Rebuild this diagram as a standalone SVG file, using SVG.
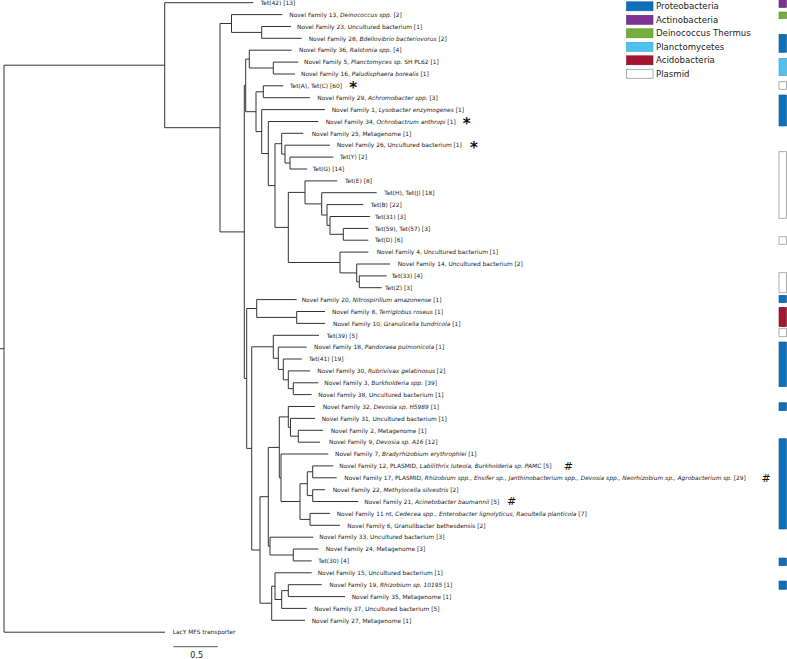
<svg xmlns="http://www.w3.org/2000/svg" width="787" height="659" viewBox="0 0 787 659">
<style>
.l{fill:none;stroke:#333;stroke-width:1}
.t{font-family:"DejaVu Sans",Verdana,sans-serif;font-size:5.9px;fill:#222}
.i{font-style:italic}
.lg{font-family:"DejaVu Sans",Verdana,sans-serif;font-size:8.6px;fill:#222}
.ast{font-family:"DejaVu Sans",sans-serif;font-size:15px;font-weight:bold;fill:#111}
.hash{font-family:"DejaVu Sans",sans-serif;font-size:11px;fill:#111}
.pr{fill:#0c70bf;stroke:#0a5a9a;stroke-width:0.6}
.ac{fill:#7e3394;stroke:#5e2470;stroke-width:0.6}
.de{fill:#76ae3a;stroke:#5a8a2a;stroke-width:0.6}
.pl{fill:#4ec2ef;stroke:#3aa0c8;stroke-width:0.6}
.ab{fill:#a5162f;stroke:#7e1024;stroke-width:0.6}
.pm{fill:#fff;stroke:#999;stroke-width:0.8}
</style>
<rect width="787" height="659" fill="#fff"/>
<g id="connectors" class="l">
<path d="M0 348.7H4M165 65.2H4V632.2H165"/>
<path d="M253.3 2.7H164.7V127.7H220"/>
<path d="M231.5 23.5H220V231.9H244.3"/>
<path d="M282.3 14.6H231.5V32.4H261.7"/>
<path d="M291 26.5H261.7V38.3H301.7"/>
<path d="M245.7 85.4H244.3V378.5H246.7"/>
<path d="M249.3 59.1H245.7V111.7H256"/>
<path d="M291.7 50.2H249.3V68H273.3"/>
<path d="M298.3 62.1H273.3V74H295"/>
<path d="M263.3 91.8H256V131.6H261.7"/>
<path d="M283.3 85.8H263.3V97.7H310"/>
<path d="M325 109.6H261.7V153.5H268.3"/>
<path d="M318.3 121.5H268.3V185.6H275"/>
<path d="M281.7 143.7H275V227.4H288.3"/>
<path d="M303.3 133.3H281.7V154.1H285"/>
<path d="M330 145.2H285V163H290"/>
<path d="M333.3 157.1H290V169H307.3"/>
<path d="M305 192.4H288.3V262.5H340"/>
<path d="M337.3 180.9H305V203.9H321.7"/>
<path d="M376.7 192.7H321.7V215H327"/>
<path d="M363.3 204.6H327V225.4H330"/>
<path d="M370 216.5H330V234.3H343.3"/>
<path d="M368.3 228.4H343.3V240.2H368.3"/>
<path d="M368.3 252.1H340V272.9H356.7"/>
<path d="M390 264H356.7V281.8H359.3"/>
<path d="M386.7 275.9H359.3V287.7H381.7"/>
<path d="M256.7 308.5H246.7V448.4H251.7"/>
<path d="M296.7 299.6H256.7V317.4H296.7"/>
<path d="M325 311.5H296.7V323.4H325"/>
<path d="M273.3 346.8H251.7V550H260"/>
<path d="M319 335.3H273.3V358.3H278.3"/>
<path d="M306.7 347.1H278.3V369.4H283.3"/>
<path d="M301.7 359H283.3V379.8H288.3"/>
<path d="M310 370.9H288.3V388.7H293.3"/>
<path d="M318.3 382.8H293.3V394.6H311.7"/>
<path d="M268.3 496.7H260V603.2H271.7"/>
<path d="M279.3 447.4H268.3V546.1H270"/>
<path d="M288.3 416.9H279.3V477.8H281"/>
<path d="M315 406.5H288.3V427.3H290.5"/>
<path d="M315 418.4H290.5V436.2H298.3"/>
<path d="M323.3 430.3H298.3V442.2H320"/>
<path d="M328.3 454H281V501.5H300"/>
<path d="M307.3 483.7H300V519.4H310"/>
<path d="M312.7 471.8H307.3V495.6H312.7"/>
<path d="M333.3 465.9H312.7V477.8H336.7"/>
<path d="M325 489.7H312.7V501.5H358.3"/>
<path d="M330 513.4H310V525.3H340"/>
<path d="M313.3 537.2H270V555H293.3"/>
<path d="M318.3 549H293.3V560.9H311.7"/>
<path d="M275 586.2H271.7V620.3H305"/>
<path d="M311.7 572.8H275V599.5H281.7"/>
<path d="M288.3 590.6H281.7V608.4H306.7"/>
<path d="M321.7 584.7H288.3V596.6H345"/>
</g>
<g id="leaves" class="t">
<g id="leaf1"><text x="260.7" y="4.9">Tet(42) [13]</text></g>
<g id="leaf2"><text x="289.3" y="16.8">Novel Family 13, <tspan class="i">Deinococcus spp.</tspan> [2]</text></g>
<g id="leaf3"><text x="297" y="28.7">Novel Family 23, Uncultured bacterium [1]</text></g>
<g id="leaf4"><text x="308.7" y="40.5">Novel Family 28, <tspan class="i">Bdellovibrio bacteriovorus</tspan> [2]</text></g>
<g id="leaf5"><text x="299" y="52.4">Novel Family 36, <tspan class="i">Ralstonia spp.</tspan> [4]</text></g>
<g id="leaf6"><text x="304" y="64.3">Novel Family 5, <tspan class="i">Planctomyces sp.</tspan> SH PL62 [1]</text></g>
<g id="leaf7"><text x="301" y="76.2">Novel Family 16, <tspan class="i">Paludisphaera borealis</tspan> [1]</text></g>
<g id="leaf8"><text x="290" y="88">Tet(A), Tet(C) [60]</text><text class="ast" x="353.3" y="93.4" text-anchor="middle">*</text></g>
<g id="leaf9"><text x="317.3" y="99.9">Novel Family 29, <tspan class="i">Achromobacter spp.</tspan> [3]</text></g>
<g id="leaf10"><text x="331.7" y="111.8">Novel Family 1, <tspan class="i">Lysobacter enzymogenes</tspan> [1]</text></g>
<g id="leaf11"><text x="325.7" y="123.7">Novel Family 34, <tspan class="i">Ochrobactrum anthropi</tspan> [1]</text><text class="ast" x="466.7" y="129" text-anchor="middle">*</text></g>
<g id="leaf12"><text x="311.7" y="135.5">Novel Family 25, Metagenome [1]</text></g>
<g id="leaf13"><text x="336.7" y="147.4">Novel Family 26, Uncultured bacterium [1]</text><text class="ast" x="474" y="152.8" text-anchor="middle">*</text></g>
<g id="leaf14"><text x="340" y="159.3">Tet(Y) [2]</text></g>
<g id="leaf15"><text x="312.7" y="171.2">Tet(G) [14]</text></g>
<g id="leaf16"><text x="345" y="183.1">Tet(E) [8]</text></g>
<g id="leaf17"><text x="384.3" y="194.9">Tet(H), Tet(J) [18]</text></g>
<g id="leaf18"><text x="370.7" y="206.8">Tet(B) [22]</text></g>
<g id="leaf19"><text x="375" y="218.7">Tet(31) [3]</text></g>
<g id="leaf20"><text x="375" y="230.6">Tet(59), Tet(57) [3]</text></g>
<g id="leaf21"><text x="375" y="242.4">Tet(D) [6]</text></g>
<g id="leaf22"><text x="376.7" y="254.3">Novel Family 4, Uncultured bacterium [1]</text></g>
<g id="leaf23"><text x="397.7" y="266.2">Novel Family 14, Uncultured bacterium [2]</text></g>
<g id="leaf24"><text x="391.7" y="278.1">Tet(33) [4]</text></g>
<g id="leaf25"><text x="385" y="289.9">Tet(Z) [3]</text></g>
<g id="leaf26"><text x="301.7" y="301.8">Novel Family 20, <tspan class="i">Nitrospirillum amazonense</tspan> [1]</text></g>
<g id="leaf27"><text x="332" y="313.7">Novel Family 8, <tspan class="i">Terriglobus roseus</tspan> [1]</text></g>
<g id="leaf28"><text x="333" y="325.6">Novel Family 10, <tspan class="i">Granulicella tundricola</tspan> [1]</text></g>
<g id="leaf29"><text x="326.7" y="337.5">Tet(39) [5]</text></g>
<g id="leaf30"><text x="314" y="349.3">Novel Family 18, <tspan class="i">Pandoraea pulmonicola</tspan> [1]</text></g>
<g id="leaf31"><text x="309" y="361.2">Tet(41) [19]</text></g>
<g id="leaf32"><text x="317.3" y="373.1">Novel Family 30, <tspan class="i">Rubrivivax gelatinosus</tspan> [2]</text></g>
<g id="leaf33"><text x="324.3" y="385">Novel Family 3, <tspan class="i">Burkholderia spp.</tspan> [39]</text></g>
<g id="leaf34"><text x="318.3" y="396.8">Novel Family 38, Uncultured bacterium [1]</text></g>
<g id="leaf35"><text x="322.7" y="408.7">Novel Family 32, <tspan class="i">Devosia sp. H5989</tspan> [1]</text></g>
<g id="leaf36"><text x="321.7" y="420.6">Novel Family 31, Uncultured bacterium [1]</text></g>
<g id="leaf37"><text x="330.7" y="432.5">Novel Family 2, Metagenome [1]</text></g>
<g id="leaf38"><text x="329" y="444.4">Novel Family 9, <tspan class="i">Devosia sp. A16</tspan> [12]</text></g>
<g id="leaf39"><text x="335" y="456.2">Novel Family 7, <tspan class="i">Bradyrhizobium erythrophlei</tspan> [1]</text></g>
<g id="leaf40"><text x="339.3" y="468.1">Novel Family 12, PLASMID, <tspan class="i">Labilithrix luteola, Burkholderia sp. PAMC</tspan> [5]</text><text class="hash" x="568.3" y="469.8" text-anchor="middle">#</text></g>
<g id="leaf41"><text x="344.3" y="480">Novel Family 17, PLASMID, <tspan class="i">Rhizobium spp., Ensifer sp., Janthinobacterium spp., Devosia spp., Neorhizobium sp., Agrobacterium sp.</tspan> [29]</text><text class="hash" x="766" y="481.7" text-anchor="middle">#</text></g>
<g id="leaf42"><text x="332.7" y="491.9">Novel Family 22, <tspan class="i">Methylocella silvestris</tspan> [2]</text></g>
<g id="leaf43"><text x="364.3" y="503.7">Novel Family 21, <tspan class="i">Acinetobacter baumannii</tspan> [5]</text><text class="hash" x="511.7" y="505.4" text-anchor="middle">#</text></g>
<g id="leaf44"><text x="336.7" y="515.6">Novel Family 11 nt, <tspan class="i">Cedecea spp., Enterobacter lignolyticus, Raoultella planticola</tspan> [7]</text></g>
<g id="leaf45"><text x="347.3" y="527.5">Novel Family 6, Granulibacter bethesdensis [2]</text></g>
<g id="leaf46"><text x="319.3" y="539.4">Novel Family 33, Uncultured bacterium [3]</text></g>
<g id="leaf47"><text x="325.7" y="551.2">Novel Family 24, Metagenome [3]</text></g>
<g id="leaf48"><text x="318.3" y="563.1">Tet(30) [4]</text></g>
<g id="leaf49"><text x="317.7" y="575">Novel Family 15, Uncultured bacterium [1]</text></g>
<g id="leaf50"><text x="329.3" y="586.9">Novel Family 19, <tspan class="i">Rhizobium sp. 10195</tspan> [1]</text></g>
<g id="leaf51"><text x="351.7" y="598.8">Novel Family 35, Metagenome [1]</text></g>
<g id="leaf52"><text x="314.3" y="610.6">Novel Family 37, Uncultured bacterium [5]</text></g>
<g id="leaf53"><text x="311.7" y="622.5">Novel Family 27, Metagenome [1]</text></g>
<g id="leaf54"><text x="172.7" y="634.4">LacY MFS transporter</text></g>
</g>
<g id="scale">
<path d="M173.3 646.7H217.7" stroke="#555" stroke-width="1"/>
<text x="196.7" y="658" text-anchor="middle" style="font-family:'DejaVu Sans',sans-serif;font-size:8px;fill:#222">0.5</text>
</g>
<g id="legend">
<rect class="pr" x="626.5" y="1.8" width="26.5" height="9"/><text class="lg" x="656" y="9.3">Proteobacteria</text>
<rect class="ac" x="626.5" y="15.3" width="26.5" height="9"/><text class="lg" x="656" y="22.8">Actinobacteria</text>
<rect class="de" x="626.5" y="28.8" width="26.5" height="9"/><text class="lg" x="656" y="36.3">Deinococcus Thermus</text>
<rect class="pl" x="626.5" y="42.3" width="26.5" height="9"/><text class="lg" x="656" y="49.8">Planctomycetes</text>
<rect class="ab" x="626.5" y="55.8" width="26.5" height="9"/><text class="lg" x="656" y="63.3">Acidobacteria</text>
<rect class="pm" x="626.5" y="69.3" width="26.5" height="9"/><text class="lg" x="656" y="76.8">Plasmid</text>
</g>
<g id="colorbars">
<rect class="ac" x="779" y="-1" width="7.5" height="8.5"/>
<rect class="de" x="779" y="12" width="7.5" height="6.7"/>
<rect class="pr" x="779" y="34.3" width="7.5" height="18"/>
<rect class="pl" x="779" y="58.3" width="7.5" height="17.4"/>
<rect class="pm" x="779" y="81.7" width="7.5" height="7.6"/>
<rect class="pr" x="779" y="95" width="7.5" height="31"/>
<rect class="pm" x="779" y="151.7" width="7.5" height="66.6"/>
<rect class="pm" x="779" y="236.7" width="7.5" height="7.6"/>
<rect class="pm" x="779" y="272.7" width="7.5" height="20"/>
<rect class="pr" x="779" y="295.3" width="7.5" height="7.4"/>
<rect class="ab" x="779" y="307.3" width="7.5" height="19.4"/>
<rect class="pm" x="779" y="328.7" width="7.5" height="8"/>
<rect class="pr" x="779" y="342" width="7.5" height="44.7"/>
<rect class="pr" x="779" y="402.7" width="7.5" height="8"/>
<rect class="pr" x="779" y="438.7" width="7.5" height="90.3"/>
<rect class="pr" x="779" y="558" width="7.5" height="7.7"/>
<rect class="pr" x="779" y="581" width="7.5" height="8.3"/>
</g>
</svg>
